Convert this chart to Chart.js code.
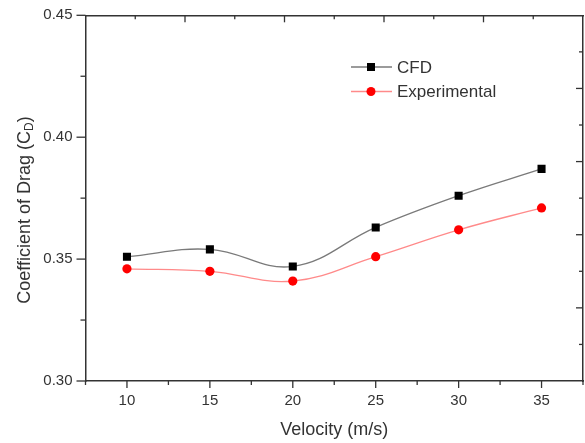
<!DOCTYPE html>
<html>
<head>
<meta charset="utf-8">
<script src="https://cdn.jsdelivr.net/npm/chart.js@4"></script>
<style>
  html, body { margin: 0; padding: 0; background: #fff; }
  #wrap { width: 585px; height: 443px; }
</style>
</head>
<body>
<div id="wrap"><canvas id="dragChart" width="585" height="443"></canvas></div>
<script>
// Data
const velocity = [10, 15, 20, 25, 30, 35];
const cfdValues = [0.351, 0.354, 0.347, 0.363, 0.376, 0.387];
const expValues = [0.346, 0.345, 0.341, 0.351, 0.362, 0.371];
const seriesNames = ["CFD", "Experimental"];
const xTicks = [10, 15, 20, 25, 30, 35];
const yTicks = [0.30, 0.35, 0.40, 0.45];

const FONT = "'Liberation Sans', Arial, sans-serif";
const AXIS = "#333";

// fixed axis sizes, no overflow padding from end labels
const fixSize = (size) => (s) => {
    if (s.isHorizontal()) s.height = size;
    else s.width = size;
    s.paddingTop = 0;
    s.paddingBottom = 0;
    s.paddingLeft = 0;
    s.paddingRight = 0;
};

// Ticks in Origin style: long majors, short minors
const axisTicks = {
    id: "axisTicks",
    afterDraw(chart) {
        const { ctx, chartArea: a, scales } = chart;
        ctx.save();
        ctx.strokeStyle = AXIS;
        ctx.lineWidth = 1.3;

        const tick = (x1, y1, x2, y2) => {
            ctx.beginPath();
            ctx.moveTo(x1, y1);
            ctx.lineTo(x2, y2);
            ctx.stroke();
        };

        // bottom, outward
        for (let v = 7.5; v <= 37.5; v += 2.5) {
            const px = scales.x.getPixelForValue(v);
            const major = v % 5 === 0;
            tick(px, a.bottom, px, a.bottom + (major ? 7 : 4));
        }
        // left, outward
        for (let i = 0; i <= 6; i++) {
            const v = 0.30 + i * 0.025;
            const py = scales.y.getPixelForValue(v);
            const major = i % 2 === 0;
            tick(a.left, py, a.left - (major ? 9 : 5), py);
        }
        // top, inward
        for (let i = 1; i < 10; i++) {
            const px = scales.x2.getPixelForValue(i / 10);
            tick(px, a.top, px, a.top + (i % 2 === 0 ? 7 : 4));
        }
        // right, inward
        for (let i = 1; i < 10; i++) {
            const py = scales.y2.getPixelForValue(i / 10);
            tick(a.right, py, a.right - (i % 2 === 0 ? 7 : 4), py);
        }
        ctx.restore();
    },
};

// Y title with subscript, and the legend box
const extraText = {
    id: "extraText",
    afterDraw(chart) {
        const { ctx } = chart;
        ctx.save();

        // y axis title
        ctx.translate(25, 210);
        ctx.rotate(-Math.PI / 2);
        ctx.fillStyle = AXIS;
        ctx.textBaseline = "middle";
        const main = "Coefficient of Drag (C";
        ctx.font = "18px " + FONT;
        const w1 = ctx.measureText(main).width;
        ctx.font = "12px " + FONT;
        const w2 = ctx.measureText("D").width;
        ctx.font = "18px " + FONT;
        const w3 = ctx.measureText(")").width;
        let x = -(w1 + w2 + w3) / 2;
        ctx.textAlign = "left";
        ctx.fillText(main, x, 0);
        x += w1;
        ctx.font = "12px " + FONT;
        ctx.fillText("D", x, 5);
        x += w2;
        ctx.font = "18px " + FONT;
        ctx.fillText(")", x, 0);
        ctx.restore();

        // legend
        ctx.save();
        const rows = [67, 91.5];
        chart.data.datasets.forEach((ds, i) => {
            const y = rows[i];
            ctx.strokeStyle = ds.borderColor;
            ctx.lineWidth = 1.3;
            ctx.beginPath();
            ctx.moveTo(351, y);
            ctx.lineTo(392, y);
            ctx.stroke();
            ctx.fillStyle = ds.pointBackgroundColor;
            if (ds.pointStyle === "rect") {
                ctx.fillRect(367, y - 4, 8, 8);
            } else {
                ctx.beginPath();
                ctx.arc(371, y, 4.5, 0, Math.PI * 2);
                ctx.fill();
            }
            ctx.fillStyle = AXIS;
            ctx.font = "17px " + FONT;
            ctx.textAlign = "left";
            ctx.textBaseline = "middle";
            ctx.fillText(ds.label, 397, y + 1);
        });
        ctx.restore();
    },
};

const toPoints = (ys) => velocity.map((v, i) => ({ x: v, y: ys[i] }));

const ctx = document.getElementById("dragChart").getContext("2d");

new Chart(ctx, {
    type: "line",
    data: {
        datasets: [
            {
                label: seriesNames[0],
                data: toPoints(cfdValues),
                borderColor: "#7a7a7a",
                borderWidth: 1.3,
                pointStyle: "rect",
                pointRadius: 5.7,
                pointBackgroundColor: "#000",
                pointBorderWidth: 0,
                tension: 0.4,
                xAxisID: "x",
                yAxisID: "y",
            },
            {
                label: seriesNames[1],
                data: toPoints(expValues),
                borderColor: "#ff8a8a",
                borderWidth: 1.3,
                pointStyle: "circle",
                pointRadius: 4.6,
                pointBackgroundColor: "#ff0000",
                pointBorderWidth: 0,
                tension: 0.4,
                xAxisID: "x",
                yAxisID: "y",
            },
        ],
    },
    options: {
        responsive: false,
        animation: false,
        layout: { padding: 0, autoPadding: false },
        plugins: {
            legend: { display: false },
            tooltip: { enabled: false },
        },
        scales: {
            x: {
                type: "linear",
                position: "bottom",
                min: 7.5,
                max: 37.5,
                afterFit: fixSize(62),
                afterBuildTicks: (s) => { s.ticks = xTicks.map((v) => ({ value: v })); },
                grid: { display: false, drawTicks: false },
                border: { display: true, color: AXIS, width: 1.5 },
                ticks: {
                    color: AXIS,
                    font: { family: FONT, size: 15 },
                    padding: 11,
                    maxRotation: 0,
                },
                title: {
                    display: true,
                    text: "Velocity (m/s)",
                    color: AXIS,
                    font: { family: FONT, size: 18 },
                    padding: { top: 0, bottom: 2 },
                },
            },
            y: {
                type: "linear",
                position: "left",
                min: 0.30,
                max: 0.45,
                afterFit: fixSize(85.5),
                afterBuildTicks: (s) => { s.ticks = yTicks.map((v) => ({ value: v })); },
                grid: { display: false, drawTicks: false },
                border: { display: true, color: AXIS, width: 1.5 },
                ticks: {
                    color: AXIS,
                    font: { family: FONT, size: 15 },
                    padding: 13,
                    callback: (v) => v.toFixed(2),
                },
            },
            x2: {
                type: "linear",
                position: "top",
                min: 0,
                max: 1,
                afterFit: fixSize(15.3),
                grid: { display: false, drawTicks: false },
                border: { display: true, color: AXIS, width: 1.5 },
                ticks: { display: false },
            },
            y2: {
                type: "linear",
                position: "right",
                min: 0,
                max: 1,
                afterFit: fixSize(2),
                grid: { display: false, drawTicks: false },
                border: { display: true, color: AXIS, width: 1.5 },
                ticks: { display: false },
            },
        },
    },
    plugins: [axisTicks, extraText],
});
</script>
</body>
</html>
